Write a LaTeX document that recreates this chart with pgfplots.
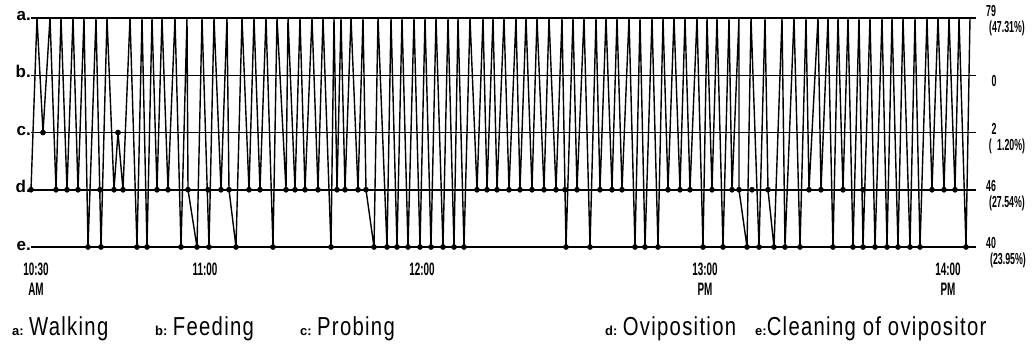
\documentclass[border=0pt]{standalone}
\usepackage{pgfplots}
\pgfplotsset{compat=1.18}
\usepackage{fontspec}
\setmainfont{Liberation Sans}
\newfontfamily\cond{Liberation Sans}[FakeStretch=0.55]
\newfontfamily\condl{Liberation Sans}[FakeStretch=0.78, LetterSpace=5]
\begin{document}
\begin{tikzpicture}[x=1pt,y=1pt]
\useasboundingbox (0,-104) rectangle (1034,247);
\begin{axis}[at={(30pt,0pt)}, anchor=south west, x=1pt, y=57.25pt,
  xmin=30, xmax=975, ymin=0, ymax=4, axis lines=none, ticks=none, clip=false]
% level lines
\addplot[black, line width=1.5pt] coordinates {(31,4) (976,4)};
\addplot[black, line width=1.5pt] coordinates {(31,3) (976,3)};
\addplot[black, line width=1.5pt] coordinates {(31,2) (976,2)};
\addplot[black, line width=1.5pt] coordinates {(31,1) (976,1)};
\addplot[black, line width=1.5pt] coordinates {(31,0) (976,0)};
% behaviour sequence
\addplot[black, line width=1.4pt, line join=round] coordinates {
(31,1) (37,4) (43,2) (50,4) (56,1) (61,4) (67,1) (73,4) (78,1) (84,4) (88,0) (96,4) (101,0) (107,4)
(114,1) (118,2) (123,1) (130,4) (137,0) (142,4) (147,0) (152,4) (157,1) (162,4) (168,1) (175,4)
(181,0) (187,4) (188,1) (197,0) (202,4) (209,0) (214,4) (221,1) (227,4) (229,1) (236,0) (242,4)
(249,1) (254,4) (260,1) (266,4) (273,0) (277,4) (286,1) (288,4) (295,1) (300,4) (305,1) (312,4)
(318,1) (323,4) (331,0) (334,4) (337,1) (341,4) (345,1) (351,4) (358,1) (363,4) (366,1) (374,0)
(378,4) (387,0) (391,4) (397,0) (402,4) (408,0) (414,4) (420,0) (425,4) (431,0) (436,4) (443,0)
(448,4) (454,0) (458,4) (464,0) (470,4) (477,1) (483,4) (487,1) (493,4) (497,1) (504,4) (509,1)
(516,4) (520,1) (526,4) (532,1) (537,4) (544,1) (549,4) (556,1) (562,4) (566,0) (573,4) (577,1)
(584,4) (590,0) (596,4) (600,1) (606,4) (612,1) (617,4) (622,1) (629,4) (635,0) (640,4) (645,0)
(652,4) (658,0) (663,4) (668,1) (674,4) (680,1) (685,4) (690,1) (697,4) (703,0) (707,4) (712,1)
(717,4) (723,0) (729,4) (732,1) (739,4) (739,1) (747,0) (751,4) (759,0) (765,4) (768,1) (774,0)
(782,4) (785,0) (794,4) (800,0) (806,4) (809,1) (818,4) (821,1) (828,4) (833,0) (838,4) (843,1)
(848,4) (853,0) (859,4) (863,0) (870,4) (875,0) (882,4) (887,0) (892,4) (898,0) (903,4) (910,0)
(915,4) (920,0) (927,4) (932,1) (938,4) (944,1) (949,4) (955,1) (959,4) (966,0) (970,4)
};
% dots: oviposition (d)
\addplot[only marks, mark=*, mark size=2.6pt, black] coordinates {
(31,1) (56,1) (67,1) (78,1) (100,1) (114,1) (123,1) (157,1) (168,1) (188,1) (208,1) (221,1) (229,1)
(249,1) (260,1) (286,1) (295,1) (305,1) (318,1) (337,1) (345,1) (358,1) (366,1) (477,1) (487,1)
(497,1) (509,1) (520,1) (532,1) (544,1) (556,1) (565,1) (577,1) (600,1) (612,1) (622,1) (668,1)
(680,1) (690,1) (712,1) (732,1) (739,1) (752,1) (768,1) (809,1) (821,1) (843,1) (863,1) (932,1)
(944,1) (955,1)
};
% dots: cleaning (e)
\addplot[only marks, mark=*, mark size=2.6pt, black] coordinates {
(88,0) (101,0) (137,0) (147,0) (181,0) (197,0) (209,0) (236,0) (273,0) (331,0) (374,0) (387,0)
(397,0) (408,0) (420,0) (431,0) (443,0) (454,0) (464,0) (566,0) (590,0) (635,0) (645,0) (658,0)
(703,0) (723,0) (747,0) (759,0) (774,0) (785,0) (800,0) (833,0) (853,0) (863,0) (875,0) (887,0)
(898,0) (910,0) (920,0) (966,0)
};
% dots: probing (c)
\addplot[only marks, mark=*, mark size=2.6pt, black] coordinates {(43,2) (118,2)};
\end{axis}
% left level labels
\foreach \l/\yy in {a/229,b/172,c/114,d/57,e/0}{
  \node[anchor=base east, inner sep=0pt, font=\bfseries\fontsize{17}{17}\selectfont] at (31,\yy-3) {\l.};
}
% right counts
\begin{scope}[every node/.style={inner sep=0pt, font=\cond\bfseries\fontsize{16}{16}\selectfont}]
\node at (991,236) {79};
\node at (1007,219) {(47.31\%)};
\node at (994,166) {0};
\node at (994,118) {2};
\node at (1007,101) {(\,\,1.20\%)};
\node at (991,61) {46};
\node at (1007,44) {(27.54\%)};
\node at (991,4) {40};
\node at (1008,-13) {(23.95\%)};
\end{scope}
% time labels
\begin{scope}[every node/.style={inner sep=0pt, font=\cond\bfseries\fontsize{18}{18}\selectfont}]
\node at (36,-22) {10:30};
\node at (36,-42) {AM};
\node at (205,-22) {11:00};
\node at (422,-22) {12:00};
\node at (705,-22) {13:00};
\node at (705,-42) {PM};
\node at (948,-22) {14:00};
\node at (948,-42) {PM};
\end{scope}
% legend
\begin{scope}[every node/.style={inner sep=0pt, anchor=base west}]
\node at (12,-88) {{\bfseries\fontsize{13}{13}\selectfont a:}\, {\condl\fontsize{26}{26}\selectfont Walking}};
\node at (155,-88) {{\bfseries\fontsize{13}{13}\selectfont b:}\, {\condl\fontsize{26}{26}\selectfont Feeding}};
\node at (300,-88) {{\bfseries\fontsize{13}{13}\selectfont c:}\, {\condl\fontsize{26}{26}\selectfont Probing}};
\node at (605,-88) {{\bfseries\fontsize{13}{13}\selectfont d:}\, {\condl\fontsize{26}{26}\selectfont Oviposition}};
\node at (755,-88) {{\bfseries\fontsize{13}{13}\selectfont e:}{\condl\fontsize{26}{26}\selectfont Cleaning of ovipositor}};
\end{scope}
\end{tikzpicture}
\end{document}
